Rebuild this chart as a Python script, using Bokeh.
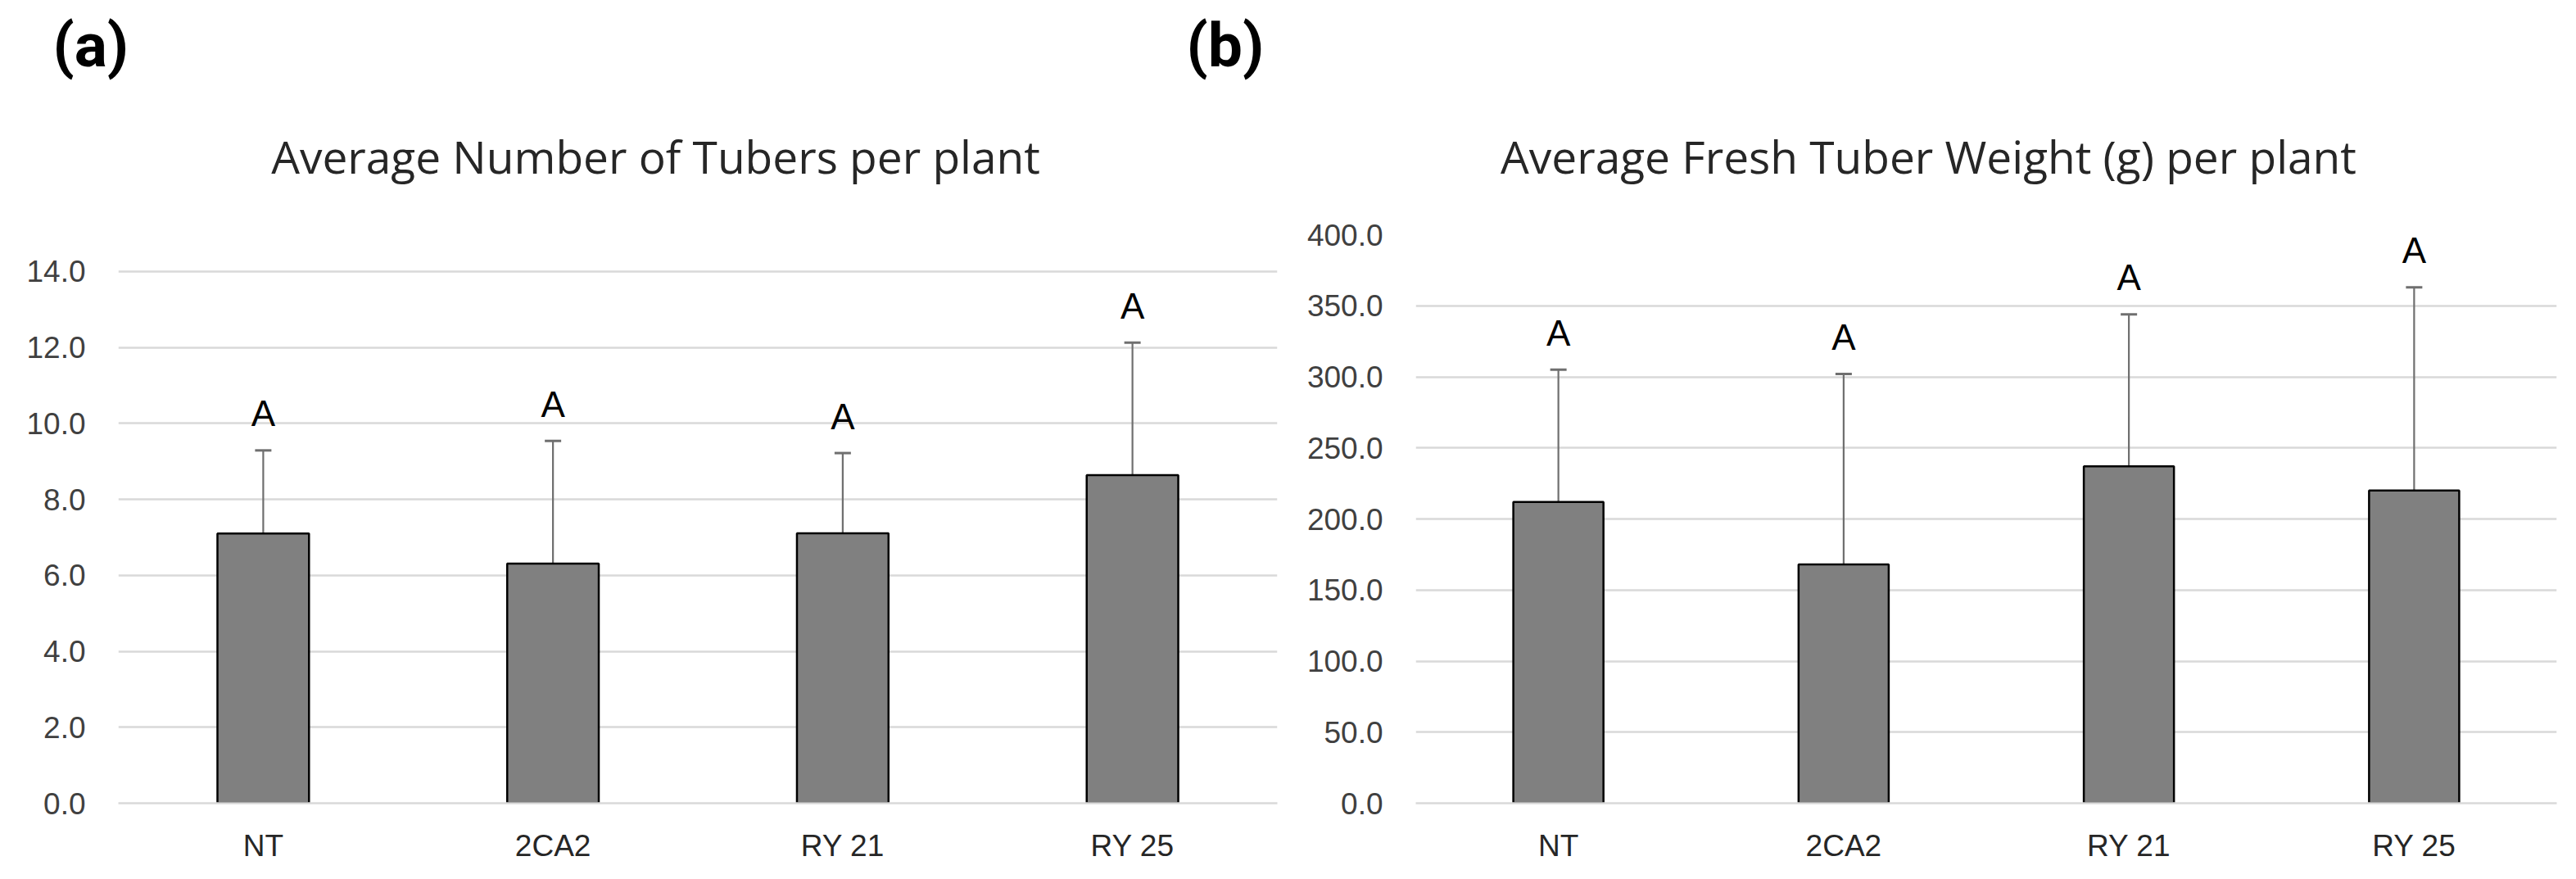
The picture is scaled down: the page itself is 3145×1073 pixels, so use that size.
from bokeh.plotting import figure
from bokeh.models import (ColumnDataSource, Range1d, FixedTicker, NumeralTickFormatter,
                          Whisker, TeeHead)
from bokeh.layouts import row, column
from bokeh.core.properties import value
from bokeh.embed import file_html
from bokeh.resources import INLINE

# ---------------- data ----------------
categories = ["NT", "2CA2", "RY 21", "RY 25"]

tubers_mean = [7.10, 6.31, 7.11, 8.64]
tubers_sd = [2.19, 3.23, 2.11, 3.49]
tubers_letters = ["A", "A", "A", "A"]
tubers_ticks = [0, 2, 4, 6, 8, 10, 12, 14]

weight_mean = [212.0, 168.0, 237.0, 220.0]
weight_sd = [93.0, 134.0, 107.0, 143.0]
weight_letters = ["A", "A", "A", "A"]
weight_ticks = [0, 50, 100, 150, 200, 250, 300, 350, 400]

chart_titles = ["Average Number of Tubers per plant",
                "Average Fresh Tuber Weight (g) per plant"]
panel_tags = ["(a)", "(b)"]

# ---------------- style ----------------
GRID = "#d9d9d9"
BAR_FILL = "#808080"
ERR = "#6f6f6f"
TICK_FONT = "Liberation Sans"
TITLE_FONT = "Open Sans"
TAG_FONT = "Roboto"
TOTAL_W = 3129
HEAD_H = 240
H = 817
TOP = 46
BOTTOM = 77


def make_panel(means, sds, letters, ticks, yend, width, bl, br):
    tops = [m + s for m, s in zip(means, sds)]
    src = ColumnDataSource(dict(cat=categories, mean=means, top=tops, letter=letters))
    p = figure(x_range=categories, y_range=Range1d(0, yend), width=width, height=H,
               output_backend="svg", toolbar_location=None, title=None,
               min_border_left=bl, min_border_right=br, min_border_top=TOP,
               min_border_bottom=BOTTOM)
    p.outline_line_color = None
    p.background_fill_color = "white"
    p.border_fill_color = "white"

    p.xgrid.grid_line_color = None
    p.ygrid.ticker = FixedTicker(ticks=ticks)
    p.ygrid.grid_line_color = GRID
    p.ygrid.grid_line_width = 2.5

    p.yaxis.ticker = FixedTicker(ticks=ticks)
    p.yaxis.formatter = NumeralTickFormatter(format="0.0")
    p.yaxis.axis_line_color = None
    p.yaxis.major_tick_line_color = None
    p.yaxis.minor_tick_line_color = None
    p.yaxis.major_tick_out = 0
    p.yaxis.major_label_standoff = 40
    p.yaxis.major_label_text_font = TICK_FONT
    p.yaxis.major_label_text_font_size = "37px"
    p.yaxis.major_label_text_color = "#404040"

    p.xaxis.axis_line_color = GRID
    p.xaxis.axis_line_width = 2.5
    p.xaxis.major_tick_line_color = None
    p.xaxis.minor_tick_line_color = None
    p.xaxis.major_tick_out = 0
    p.xaxis.major_label_standoff = 31
    p.xaxis.major_label_text_font = TICK_FONT
    p.xaxis.major_label_text_font_size = "37px"
    p.xaxis.major_label_text_color = "#262626"

    # error bars (upper only)
    w = Whisker(base="cat", lower="mean", upper="top", source=src, dimension="height",
                line_color=ERR, line_width=2.2,
                upper_head=TeeHead(size=20, line_color=ERR, line_width=3),
                lower_head=None)
    p.add_layout(w)

    p.vbar(x="cat", top="mean", bottom=0, width=0.316, source=src,
           fill_color=BAR_FILL, line_color="black", line_width=2.5)

    p.text(x="cat", y="top", text="letter", source=src, text_align="center",
           text_baseline="alphabetic", y_offset=-45,
           text_font=value(TICK_FONT), text_font_size="44px", text_color="black")
    return p


# header strip: panel tags and the two chart titles
head = figure(width=TOTAL_W, height=HEAD_H, x_range=Range1d(0, TOTAL_W),
              y_range=Range1d(0, HEAD_H), output_backend="svg", toolbar_location=None,
              title=None, min_border=0)
head.xaxis.visible = False
head.yaxis.visible = False
head.grid.grid_line_color = None
head.outline_line_color = None
head.text(x=[64, 1448], y=[186, 186], text=panel_tags, text_align="left",
          text_baseline="middle", text_font=value(TAG_FONT),
          text_font_size="75px", text_font_style="bold", text_color="black")
head.text(x=[800, 2354], y=[50, 50], text=chart_titles, text_align="center",
          text_baseline="middle", text_font=value(TITLE_FONT),
          text_font_size="55px", text_color="#262626")

# panel (a): 0..14 occupies the same pixel height as 0..~15 in the frame shared with (b)
pa = make_panel(tubers_mean, tubers_sd, tubers_letters, tubers_ticks, 14.97,
                width=1575, bl=144, br=16)
pb = make_panel(weight_mean, weight_sd, weight_letters, weight_ticks, 400,
                width=1554, bl=153, br=8)

layout = column(head, row(pa, pb))
open("out.html", "w").write(file_html(layout, INLINE))
